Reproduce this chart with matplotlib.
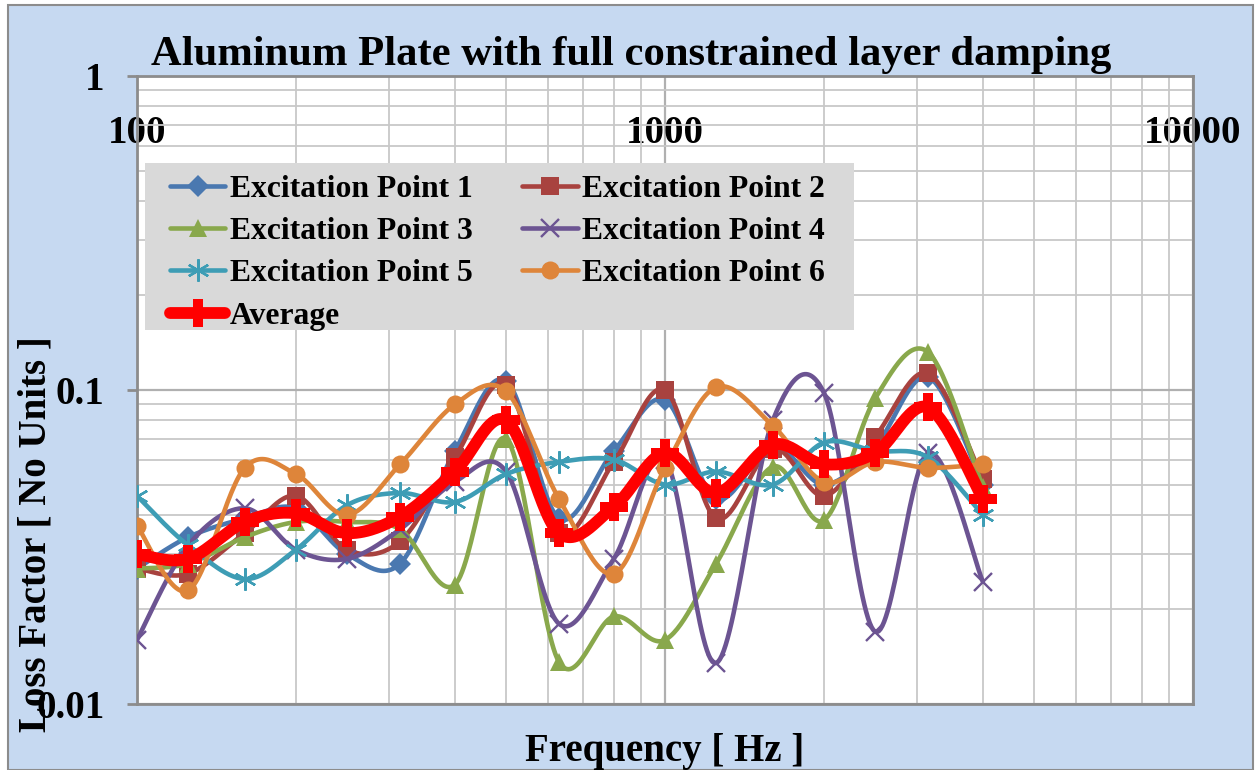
import numpy as np
import matplotlib.pyplot as plt
from matplotlib.lines import Line2D
from matplotlib.patches import Rectangle
from matplotlib.ticker import FixedLocator, FixedFormatter, LogLocator, NullFormatter

plt.rcParams['font.family'] = ['Liberation Serif', 'DejaVu Serif']
plt.rcParams['font.weight'] = 'bold'

# one-third octave band centres (Hz)
freq = [100, 125, 160, 200, 250, 315, 400, 500, 630, 800,
        1000, 1250, 1600, 2000, 2500, 3150, 4000]

# loss factor per excitation point
point1 = [0.027, 0.034, 0.039, 0.042, 0.030, 0.028, 0.064, 0.107, 0.039, 0.064,
          0.093, 0.045, 0.066, 0.050, 0.066, 0.110, 0.050]
point2 = [0.027, 0.026, 0.035, 0.046, 0.031, 0.033, 0.061, 0.104, 0.035, 0.059,
          0.100, 0.039, 0.065, 0.046, 0.071, 0.113, 0.052]
point3 = [0.027, 0.028, 0.034, 0.038, 0.038, 0.036, 0.024, 0.070, 0.0136, 0.019,
          0.016, 0.028, 0.057, 0.0385, 0.094, 0.132, 0.049]
point4 = [0.016, 0.032, 0.042, 0.031, 0.029, 0.036, 0.051, 0.055, 0.018, 0.029,
          0.060, 0.0135, 0.080, 0.098, 0.017, 0.063, 0.0245]
point5 = [0.046, 0.032, 0.025, 0.031, 0.043, 0.047, 0.044, 0.054, 0.059, 0.060,
          0.050, 0.055, 0.050, 0.068, 0.064, 0.061, 0.040]
point6 = [0.037, 0.023, 0.0565, 0.054, 0.040, 0.058, 0.090, 0.099, 0.045, 0.026,
          0.0565, 0.102, 0.077, 0.051, 0.059, 0.0565, 0.058]
average = [0.030, 0.029, 0.038, 0.0405, 0.035, 0.0395, 0.055, 0.080, 0.035, 0.0425,
           0.063, 0.047, 0.067, 0.058, 0.063, 0.088, 0.045]

labels = ['Excitation Point 1', 'Excitation Point 2', 'Excitation Point 3',
          'Excitation Point 4', 'Excitation Point 5', 'Excitation Point 6', 'Average']
series = [point1, point2, point3, point4, point5, point6, average]
colors = ['#4A78B0', '#A8423F', '#89A84C', '#6C5492', '#3E9DB5', '#DE853A', '#FF0000']
markers = ['D', 's', '^', 'x', (6, 2, 0), 'o', 'P']
msizes = [11, 13, 13, 13, 16, 13, 20]
lwidths = [3.3, 3.3, 3.3, 3.3, 3.3, 3.3, 8.5]


def smooth(x, y, n=30):
    # bezier smoothing through the points in log-log space
    lx, ly = np.log10(x), np.log10(y)
    P = np.column_stack([lx, ly])
    P = np.vstack([P[0], P, P[-1]])
    t = np.linspace(0, 1, n)[:, None]
    out = []
    for i in range(1, len(P) - 2):
        p0, p1, p2, p3 = P[i - 1], P[i], P[i + 1], P[i + 2]
        c1 = p1 + (p2 - p0) / 6
        c2 = p2 - (p3 - p1) / 6
        seg = (1 - t)**3 * p1 + 3 * (1 - t)**2 * t * c1 + 3 * (1 - t) * t**2 * c2 + t**3 * p2
        out.append(seg if i == 1 else seg[1:])
    out = np.vstack(out)
    return 10**out[:, 0], 10**out[:, 1]


fig = plt.figure(figsize=(12.57, 7.70), dpi=100)
fig.patch.set_facecolor('white')
fig.patches.append(Rectangle((8 / 1257, 0), 1245 / 1257, 765 / 770, transform=fig.transFigure,
                             facecolor='#C6D9F1', edgecolor='#8C8C8C', lw=1.5, zorder=-1))

ax = fig.add_axes([137 / 1257, 66 / 770, 1056 / 1257, 628 / 770])
ax.set_facecolor('white')
ax.set_xscale('log')
ax.set_yscale('log')
ax.set_xlim(100, 10000)
ax.set_ylim(0.01, 1)

handles = []
for ys, lab, c, m, ms, lw in zip(series, labels, colors, markers, msizes, lwidths):
    sx, sy = smooth(freq, ys)
    z = 5 if lab == 'Average' else 3
    ax.plot(sx, sy, color=c, lw=lw, solid_capstyle='round', zorder=z)
    mew = 1.7 if m in ('x', (6, 2, 0)) else 0
    ax.plot(freq, ys, ls='none', marker=m, ms=ms, color=c, mec=c, mew=mew, zorder=z)
    handles.append(Line2D([], [], color=c, lw=lw, marker=m, ms=ms, mec=c, mew=mew,
                          solid_capstyle='round'))

# grid and axes
ax.grid(which='major', color='#B0B0B0', lw=1.6)
ax.grid(which='minor', color='#C8C8C8', lw=1.3)
ax.set_axisbelow(True)
for s in ax.spines.values():
    s.set_color('#8C8C8C')
    s.set_linewidth(2)

ax.yaxis.set_major_locator(FixedLocator([0.01, 0.1, 1]))
ax.yaxis.set_major_formatter(FixedFormatter(['0.01', '0.1', '1']))
ax.yaxis.set_minor_locator(LogLocator(base=10, subs=np.arange(2, 10)))
ax.yaxis.set_minor_formatter(NullFormatter())
ax.tick_params(axis='y', which='major', direction='out', length=7, width=2,
               color='#8C8C8C', pad=16.5, labelsize=28)
ax.tick_params(axis='y', which='minor', length=0)

ax.xaxis.set_major_locator(FixedLocator([100, 1000, 10000]))
ax.xaxis.set_major_formatter(FixedFormatter(['100', '1000', '10000']))
ax.xaxis.set_minor_locator(LogLocator(base=10, subs=np.arange(2, 10)))
ax.xaxis.set_minor_formatter(NullFormatter())
ax.tick_params(axis='x', which='both', length=0, bottom=False, top=False,
               labelbottom=False, labeltop=True, labelsize=28, pad=-55)

fig.text(0.502, 0.928, 'Aluminum Plate with full constrained layer damping',
         ha='center', va='center', fontsize=30.7, fontweight='bold')
ax.set_xlabel('Frequency [ Hz ]', fontsize=28, fontweight='bold')
ax.xaxis.set_label_coords(0.5, -0.046)
ax.set_ylabel('Loss Factor [ No Units ]', fontsize=28, fontweight='bold')
ax.yaxis.set_label_coords(-0.078, 0.27)

# legend: grey panel plus the entries laid out row by row
ax.add_patch(Rectangle((8 / 1056, (704 - 330) / 628), 709 / 1056, 167 / 628,
                       transform=ax.transAxes, facecolor='#D9D9D9', edgecolor='none',
                       zorder=9))
order = [0, 2, 4, 6, 1, 3, 5]
leg = ax.legend([handles[i] for i in order], [labels[i] for i in order], ncol=2,
                loc='upper left', bbox_to_anchor=(33 / 1056, (704 - 175) / 628),
                borderaxespad=0, borderpad=0, fontsize=22.8, frameon=False,
                handlelength=1.75, handletextpad=0.15, columnspacing=1.55,
                labelspacing=0.41)
leg.set_zorder(10)

fig.savefig('out.png', dpi=100, facecolor=fig.get_facecolor())
